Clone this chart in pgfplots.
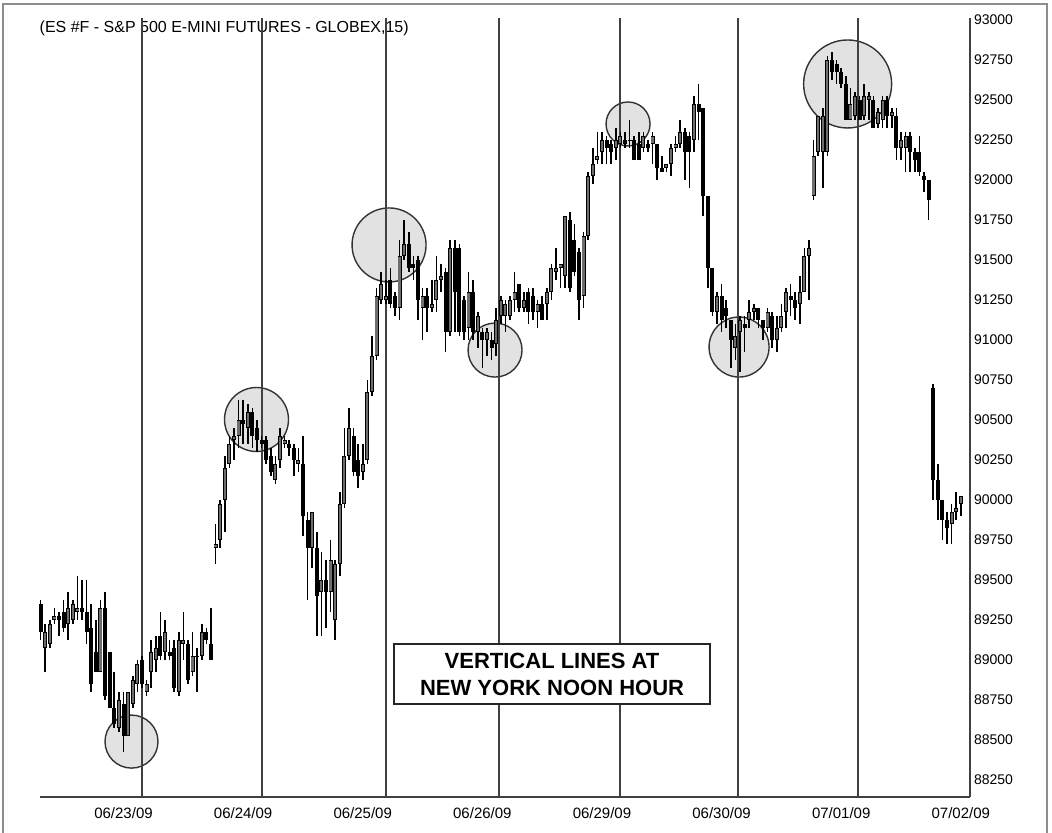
\documentclass[border=0pt]{standalone}
\usepackage{fontspec}
\setmainfont{Liberation Sans}
\usepackage{pgfplots}
\usepackage{pgfplotstable}
\pgfplotsset{compat=1.18}
\definecolor{upgray}{HTML}{6E6E6E}
\definecolor{axisgray}{HTML}{404040}
\definecolor{circfill}{HTML}{E2E2E2}

% 15-minute bars: bar number, open, high, low, close
\pgfplotstableread{
i o h l c
0 89350 89375 89125 89175
1 89075 89225 88925 89175
2 89100 89250 89075 89225
3 89250 89325 89225 89275
4 89275 89300 89150 89250
5 89300 89375 89175 89200
6 89225 89425 89125 89325
7 89250 89375 89225 89350
8 89300 89525 89250 89325
9 89325 89500 89250 89300
10 89300 89500 89100 89175
11 89200 89350 88800 88850
12 89050 89250 88925 88925
13 88925 89375 88925 89325
14 89325 89425 88750 88775
15 89050 89050 88700 88700
16 88700 88925 88575 88600
17 88575 88800 88550 88750
18 88725 88800 88425 88525
19 88525 88800 88525 88800
20 88725 88900 88700 88875
21 88850 89000 88800 88975
22 89000 89025 88825 88850
23 88800 88875 88775 88850
24 88925 89125 88825 89050
25 89000 89150 88925 89075
26 89150 89300 89000 89025
27 89050 89250 89000 89175
28 89050 89125 89000 89025
29 89075 89125 88800 88825
30 88800 89175 88775 89125
31 89100 89300 89000 89125
32 89100 89125 88850 88875
33 88925 89175 88900 89025
34 89025 89075 88800 89025
35 89025 89225 89000 89175
36 89175 89200 89100 89125
37 89100 89325 89000 89000
38 89700 89850 89600 89725
39 89750 90000 89700 89975
40 90000 90275 89800 90200
41 90225 90400 90200 90350
42 90375 90450 90250 90400
43 90400 90625 90325 90500
44 90500 90625 90350 90475
45 90450 90600 90350 90550
46 90550 90575 90325 90400
47 90450 90500 90300 90375
48 90375 90400 90325 90350
49 90375 90400 90225 90250
50 90275 90325 90150 90175
51 90125 90275 90100 90225
52 90250 90450 90200 90400
53 90350 90400 90325 90375
54 90350 90375 90275 90325
55 90325 90350 90150 90250
56 90225 90325 90175 90250
57 90225 90400 89775 89900
58 89875 89925 89375 89700
59 89700 89925 89575 89925
60 89700 89800 89150 89400
61 89425 89675 89150 89500
62 89500 89625 89200 89425
63 89425 89750 89300 89625
64 89250 89625 89125 89600
65 89600 90050 89525 89975
66 89975 90450 89950 90275
67 90275 90575 90250 90450
68 90400 90450 90150 90175
69 90250 90350 90075 90150
70 90175 90350 90125 90225
71 90250 90750 90225 90675
72 90675 91025 90650 90900
73 90900 91325 90875 91275
74 91250 91425 91225 91350
75 91250 91375 91225 91275
76 91375 91450 91200 91225
77 91275 91300 91150 91200
78 91200 91625 91125 91525
79 91525 91750 91500 91600
80 91600 91675 91425 91450
81 91475 91525 91375 91450
82 91500 91525 91125 91250
83 91200 91325 91000 91275
84 91275 91325 91050 91200
85 91200 91375 91175 91225
86 91250 91525 91175 91375
87 91375 91475 91300 91400
88 91425 91450 90925 91050
89 91050 91625 91025 91575
90 91575 91625 91050 91300
91 91575 91600 91025 91050
92 91250 91275 91000 91050
93 91075 91425 91000 91300
94 91300 91375 91000 91050
95 91050 91175 90950 91150
96 91050 91075 90825 91000
97 91000 91075 90900 91050
98 91000 91050 90875 90950
99 90975 91200 90900 91125
100 91150 91275 91100 91250
101 91150 91250 91050 91225
102 91150 91275 91125 91250
103 91250 91425 91175 91300
104 91350 91350 91175 91200
105 91200 91300 91175 91250
106 91300 91325 91100 91175
107 91275 91325 91125 91175
108 91175 91250 91075 91225
109 91225 91275 91125 91125
110 91225 91325 91125 91300
111 91300 91475 91250 91450
112 91425 91575 91375 91450
113 91450 91475 91325 91475
114 91400 91775 91325 91775
115 91750 91800 91300 91325
116 91625 91725 91400 91425
117 91550 91575 91125 91250
118 91275 91675 91200 91650
119 91650 92050 91625 92025
120 92025 92200 91975 92100
121 92125 92300 92100 92150
122 92175 92300 92100 92250
123 92250 92275 92100 92200
124 92225 92250 92100 92175
125 92200 92325 92125 92250
126 92225 92300 92200 92275
127 92250 92300 92200 92225
128 92250 92375 92200 92250
129 92250 92275 92125 92125
130 92225 92300 92125 92125
131 92200 92300 92175 92275
132 92225 92250 92175 92200
133 92225 92300 92100 92275
134 92225 92225 92000 92075
135 92075 92150 92050 92050
136 92075 92100 92050 92100
137 92100 92225 92025 92200
138 92200 92275 92175 92225
139 92225 92375 92200 92300
140 92300 92325 92000 92175
141 92275 92300 91950 92175
142 92250 92525 92175 92475
143 92475 92600 92250 92425
144 92450 92450 91775 91900
145 91900 91900 91325 91450
146 91450 91450 91150 91175
147 91175 91300 91100 91275
148 91275 91350 91050 91125
149 91200 91250 91075 91150
150 91125 91125 90825 91000
151 90950 91100 90875 91025
152 91050 91150 90800 91125
153 91100 91150 90925 91075
154 91125 91250 91075 91175
155 91175 91225 91125 91200
156 91200 91200 91075 91125
157 91125 91125 91000 91075
158 91075 91200 91050 91175
159 91150 91175 90950 91000
160 91000 91150 90925 91075
161 91075 91225 91050 91150
162 91175 91325 91075 91300
163 91275 91350 91150 91250
164 91250 91300 91125 91200
165 91225 91400 91100 91300
166 91300 91575 91300 91525
167 91525 91625 91250 91575
168 91900 92250 91875 92150
169 92175 92400 92150 92400
170 92175 92450 91950 92400
171 92175 92775 92150 92750
172 92750 92800 92625 92675
173 92725 92750 92600 92675
174 92675 92700 92575 92600
175 92600 92650 92375 92375
176 92375 92575 92375 92475
177 92400 92550 92375 92525
178 92500 92525 92375 92375
179 92400 92600 92375 92525
180 92500 92550 92375 92525
181 92500 92525 92325 92325
182 92350 92450 92325 92425
183 92375 92525 92325 92500
184 92500 92525 92325 92400
185 92400 92450 92325 92425
186 92400 92450 92125 92200
187 92200 92300 92125 92250
188 92200 92300 92050 92275
189 92275 92300 92050 92175
190 92175 92200 92050 92125
191 92175 92275 92025 92050
192 92025 92050 91925 92000
193 92000 92000 91750 91875
194 90700 90725 90000 90125
195 90125 90225 89875 90000
196 90000 90000 89750 89875
197 89875 89925 89725 89825
198 89850 89975 89725 89925
199 89925 90050 89875 89950
200 89975 90025 89900 90025
}\esbars

\begin{document}
\begin{tikzpicture}
\begin{axis}[
  set layers,
  scale only axis, width=465pt, height=389.5pt,
  at={(0,0)}, anchor=south west,
  xmin=-0.15, xmax=202, ymin=88143.75, ymax=93012.5,
  clip=false,
  axis x line*=bottom, axis y line*=right,
  axis line style={line width=1pt, color=axisgray},
  major tick length=0pt,
  xtick={18,44,70,96,122,148,174,200},
  xticklabels={06/23/09,06/24/09,06/25/09,06/26/09,06/29/09,06/30/09,07/01/09,07/02/09},
  xticklabel style={font=\fontsize{7.5}{9}\selectfont, yshift=-2pt},
  ytick={88250,88500,...,93000},
  yticklabel style={font=\fontsize{7}{8}\selectfont, xshift=-1.5pt},
  scaled y ticks=false,
  /pgf/number format/1000 sep={},
  /pgf/number format/assume math mode=true,
  extra x ticks={22,48.1,75.1,99.6,125.9,151.6,177.7},
  extra x tick labels={},
  extra x tick style={grid=major, major grid style={line width=1pt, color=axisgray}},
  candle/.style={draw=none, mark=none, forget plot,
    error bars/.cd, y dir=both, y explicit, error mark=none},
]
\begin{pgfonlayer}{axis background}
  \node[anchor=west, inner sep=0pt, font=\fontsize{8}{9.6}\selectfont]
    at (axis cs:-0.3,92950) {(ES \#F - S\&P 500 E-MINI FUTURES - GLOBEX,15)};
  \begin{scope}[fill=circfill, draw=black!80, line width=0.7pt]
    \filldraw (axis cs:19.74,88490) circle[radius=13.25pt];
    \filldraw (axis cs:46.91,90503) circle[radius=16pt];
    \filldraw (axis cs:75.72,91594) circle[radius=18.5pt];
    \filldraw (axis cs:98.76,90937) circle[radius=13.5pt];
    \filldraw (axis cs:127.67,92350) circle[radius=11pt];
    \filldraw (axis cs:151.8,90956) circle[radius=15pt];
    \filldraw (axis cs:175.4,92600) circle[radius=22pt];
  \end{scope}
\end{pgfonlayer}

% wicks
\addplot[candle, error bar style={line width=0.8pt, draw=black, solid}]
  table[x=i, y expr={(\thisrow{h}+\thisrow{l})/2},
        y error expr={(\thisrow{h}-\thisrow{l})/2}] {\esbars};
% bodies (black, also the outline of the grey ones)
\addplot[candle, error bar style={line width=2.0pt, draw=black, solid}]
  table[x=i, y expr={(\thisrow{o}+\thisrow{c})/2},
        y error expr={max(abs(\thisrow{c}-\thisrow{o})/2,4)}] {\esbars};
% up bars filled grey
\addplot[restrict expr to domain={\thisrow{c}-\thisrow{o}}{15:100000},
  candle, error bar style={line width=1.1pt, draw=upgray, solid}]
  table[x=i, y expr={(\thisrow{o}+\thisrow{c})/2},
        y error expr={abs(\thisrow{c}-\thisrow{o})/2-5}] {\esbars};

\node[draw=black!85, line width=0.8pt, fill=white, align=center,
  minimum width=158pt, minimum height=30pt, inner sep=0pt,
  font=\bfseries\fontsize{11}{13.5}\selectfont]
  at (axis cs:111.15,88912) {VERTICAL LINES AT\\NEW YORK NOON HOUR};
\end{axis}
\draw[color=black!45, line width=0.7pt] (-18.5pt,-18pt) -- (-18.5pt,396.5pt) -- (503.5pt,396.5pt) -- (503.5pt,-18pt);
\pgfresetboundingbox
\path[use as bounding box] (-20pt,-18pt) rectangle (506pt,398.5pt);
\end{tikzpicture}
\end{document}
